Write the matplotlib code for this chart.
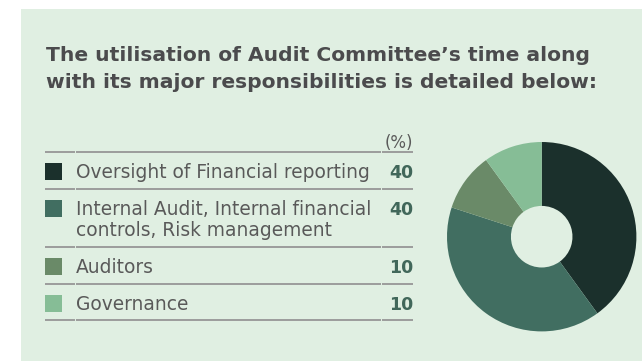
import matplotlib
matplotlib.use("Agg")
import matplotlib.pyplot as plt
from matplotlib.patches import Rectangle

# Data
categories = [
    "Oversight of Financial reporting",
    "Internal Audit, Internal financial\ncontrols, Risk management",
    "Auditors",
    "Governance",
]
shares = [40, 40, 10, 10]
colors = ["#1b302c", "#416e61", "#6a8a68", "#86bd96"]
title_lines = ["The utilisation of Audit Committee\u2019s time along",
               "with its major responsibilities is detailed below:"]
unit_label = "(%)"

W, H = 642, 361
fig = plt.figure(figsize=(W / 100, H / 100), dpi=100)
fig.patch.set_facecolor("white")

# Canvas axes in pixel units (y downward)
ax = fig.add_axes([0, 0, 1, 1])
ax.set_xlim(0, W)
ax.set_ylim(H, 0)
ax.axis("off")

bg = "#e0efe2"
ax.add_patch(Rectangle((21, 9), W - 21, H - 9, facecolor=bg, edgecolor="none", zorder=0))

for k, line in enumerate(title_lines):
    ax.text(46, 61 + 27 * k, line, fontsize=14.6, fontweight="bold", color="#4b4b4d",
            family="DejaVu Sans", ha="left", va="baseline")

# Table rows
row_lines = [152.3, 189, 247.3, 283.7, 320]
line_col = "#9c9c9c"
for y in row_lines:
    for x0, x1 in [(45, 75), (76, 381), (382, 413)]:
        ax.plot([x0, x1], [y, y], color=line_col, lw=1.4, solid_capstyle="butt", zorder=2)

body_font = "DejaVu Sans"
ax.text(413, 147.5, unit_label, fontsize=12, color="#5a5a5a", family=body_font,
        ha="right", va="baseline")

text_col = "#595959"
val_col = "#41675a"
for i, (cat, val, c) in enumerate(zip(categories, shares, colors)):
    top = row_lines[i]
    base = top + 26
    ax.add_patch(Rectangle((45, top + 11), 17, 17, facecolor=c, edgecolor="none", zorder=3))
    for j, part in enumerate(cat.split("\n")):
        ax.text(76, base + 21.5 * j, part, fontsize=13.4, color=text_col, family=body_font,
                ha="left", va="baseline", zorder=3)
    ax.text(413, base, str(val), fontsize=12.5, fontweight="bold", color=val_col,
            family=body_font, ha="right", va="baseline", zorder=3)

# Donut chart
cx, cy, R = 541.7, 236.7, 94.7
pax = fig.add_axes([(cx - R) / W, 1 - (cy + R) / H, 2 * R / W, 2 * R / H])
pax.pie(shares, colors=colors, startangle=90, counterclock=False, radius=1,
        wedgeprops=dict(width=0.675, edgecolor="none", antialiased=True))
pax.set_xlim(-1, 1)
pax.set_ylim(-1, 1)
pax.set_aspect("equal")
pax.axis("off")

fig.savefig("out.png", dpi=100, facecolor="white")
